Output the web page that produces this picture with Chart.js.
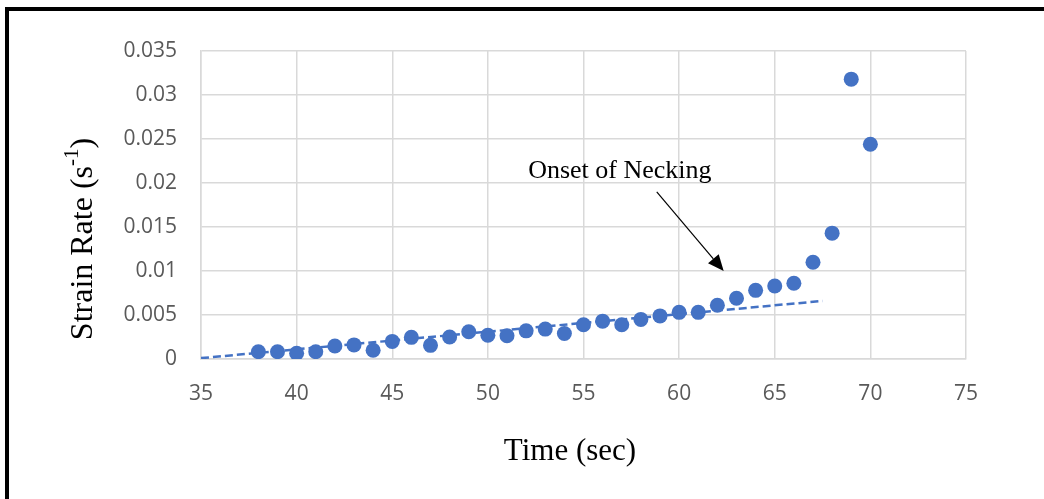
<!DOCTYPE html>
<html>
<head>
<meta charset="utf-8">
<script src="https://cdn.jsdelivr.net/npm/chart.js@4"></script>
<style>
  html, body { margin: 0; padding: 0; background: #ffffff; }
  canvas { display: block; }
</style>
</head>
<body>
<canvas id="c" width="1044" height="499"></canvas>
<script>
// ---- Data ----
const timeSec = [38, 39, 40, 41, 42, 43, 44, 45, 46, 47, 48, 49, 50, 51, 52, 53, 54, 55, 56, 57, 58, 59, 60, 61, 62, 63, 64, 65, 66, 67, 68, 69, 70];
const strainRate = [0.00083, 0.00083, 0.00065, 0.00083, 0.00148, 0.0016, 0.001, 0.002, 0.00246, 0.00155, 0.0025, 0.0031,
                    0.0027, 0.00265, 0.0032, 0.0034, 0.0029, 0.0039, 0.0043, 0.0039, 0.0045, 0.0049, 0.0053, 0.0053,
                    0.0061, 0.0069, 0.0078, 0.0083, 0.0086, 0.011, 0.0143, 0.0318, 0.0244];
const trendX = [35, 67.5];
const trendY = [0.0001, 0.0066];
const xTickValues = [35, 40, 45, 50, 55, 60, 65, 70, 75];
const yTickLabels = ['0', '0.005', '0.01', '0.015', '0.02', '0.025', '0.03', '0.035'];
const xTitle = 'Time (sec)';
const yTitleMain = 'Strain Rate (s';
const yTitleSup = '-1';
const yTitleEnd = ')';
const annotationText = 'Onset of Necking';
const annotationTextPos = [56.9, 0.0206];
const arrowFrom = [58.83, 0.0190];
const arrowTo = [62.33, 0.0100];

const BLUE = '#4472C4';
const GRID = '#d9d9d9';
const TICK = '#595959';

const pointData = timeSec.map((t, i) => ({ x: t, y: strainRate[i] }));
const trendData = trendX.map((t, i) => ({ x: t, y: trendY[i] }));

const decor = {
  id: 'decor',
  beforeDraw(chart) {
    const ctx = chart.ctx;
    ctx.save();
    ctx.fillStyle = '#000';
    ctx.fillRect(5, 7, 1039, 4);
    ctx.fillRect(5, 7, 4, 492);
    ctx.restore();
  },
  afterDraw(chart) {
    const ctx = chart.ctx;
    const xs = chart.scales.x, ys = chart.scales.y;
    ctx.save();
    // axis titles
    ctx.fillStyle = '#000';
    ctx.font = '31px "Liberation Serif", "Times New Roman", serif';
    ctx.textAlign = 'center';
    ctx.textBaseline = 'middle';
    ctx.fillText(xTitle, 570, 452);

    // y title rotated with superscript
    ctx.save();
    ctx.translate(81, 239);
    ctx.rotate(-Math.PI / 2);
    const mainF = '32px "Liberation Serif", "Times New Roman", serif';
    const supF = '21px "Liberation Serif", "Times New Roman", serif';
    ctx.font = mainF;
    const w1 = ctx.measureText(yTitleMain).width;
    const w3 = ctx.measureText(yTitleEnd).width;
    ctx.font = supF;
    const w2 = ctx.measureText(yTitleSup).width;
    const total = w1 + w2 + w3;
    let x0 = -total / 2;
    ctx.textAlign = 'left';
    ctx.textBaseline = 'alphabetic';
    ctx.font = mainF;
    ctx.fillText(yTitleMain, x0, 11);
    ctx.font = supF;
    ctx.fillText(yTitleSup, x0 + w1, -3);
    ctx.font = mainF;
    ctx.fillText(yTitleEnd, x0 + w1 + w2, 11);
    ctx.restore();

    // annotation
    ctx.font = '26px "Liberation Serif", "Times New Roman", serif';
    ctx.textAlign = 'center';
    ctx.textBaseline = 'alphabetic';
    ctx.fillText(annotationText, xs.getPixelForValue(annotationTextPos[0]), ys.getPixelForValue(annotationTextPos[1]));

    const ax = xs.getPixelForValue(arrowFrom[0]), ay = ys.getPixelForValue(arrowFrom[1]);
    const bx = xs.getPixelForValue(arrowTo[0]), by = ys.getPixelForValue(arrowTo[1]);
    const ang = Math.atan2(by - ay, bx - ax);
    const hl = 16, hw = 7;
    const bxl = bx - hl * Math.cos(ang), byl = by - hl * Math.sin(ang);
    ctx.strokeStyle = '#000';
    ctx.lineWidth = 1.2;
    ctx.beginPath();
    ctx.moveTo(ax, ay);
    ctx.lineTo(bxl, byl);
    ctx.stroke();
    ctx.beginPath();
    ctx.moveTo(bx, by);
    ctx.lineTo(bxl + hw * Math.sin(ang), byl - hw * Math.cos(ang));
    ctx.lineTo(bxl - hw * Math.sin(ang), byl + hw * Math.cos(ang));
    ctx.closePath();
    ctx.fill();
    ctx.restore();
  }
};

new Chart(document.getElementById('c'), {
  type: 'scatter',
  data: {
    datasets: [
      {
        label: 'Strain Rate',
        data: pointData,
        backgroundColor: BLUE,
        borderColor: BLUE,
        pointRadius: 7.5,
        pointBorderWidth: 0,
        showLine: false,
        order: 1
      },
      {
        label: 'Trend',
        data: trendData,
        showLine: true,
        borderColor: BLUE,
        borderWidth: 2.5,
        borderDash: [8, 4],
        pointRadius: 0,
        fill: false,
        order: 2
      }
    ]
  },
  options: {
    responsive: false,
    animation: false,
    layout: { padding: { top: 51, right: 78, bottom: 0, left: 0 } },
    plugins: { legend: { display: false }, tooltip: { enabled: false } },
    scales: {
      x: {
        type: 'linear',
        min: 35, max: 75,
        afterBuildTicks(s) { s.ticks = xTickValues.map(v => ({ value: v })); },
        ticks: { color: TICK, font: { family: '"Open Sans", sans-serif', size: 21 }, padding: 22,
                 callback: (v) => String(v) },
        grid: { color: GRID, lineWidth: 1.5, drawTicks: false },
        border: { color: GRID, width: 1.5 },
        afterFit(s) { s.height = 140; }
      },
      y: {
        min: 0, max: 0.035,
        ticks: { stepSize: 0.005, color: TICK, font: { family: '"Open Sans", sans-serif', size: 21 }, padding: 24,
                 callback: (v, i) => yTickLabels[i] },
        grid: { color: GRID, lineWidth: 1.5, drawTicks: false },
        border: { color: GRID, width: 1.5 },
        afterFit(s) { s.width = 201; }
      }
    }
  },
  plugins: [decor]
});
</script>
</body>
</html>
